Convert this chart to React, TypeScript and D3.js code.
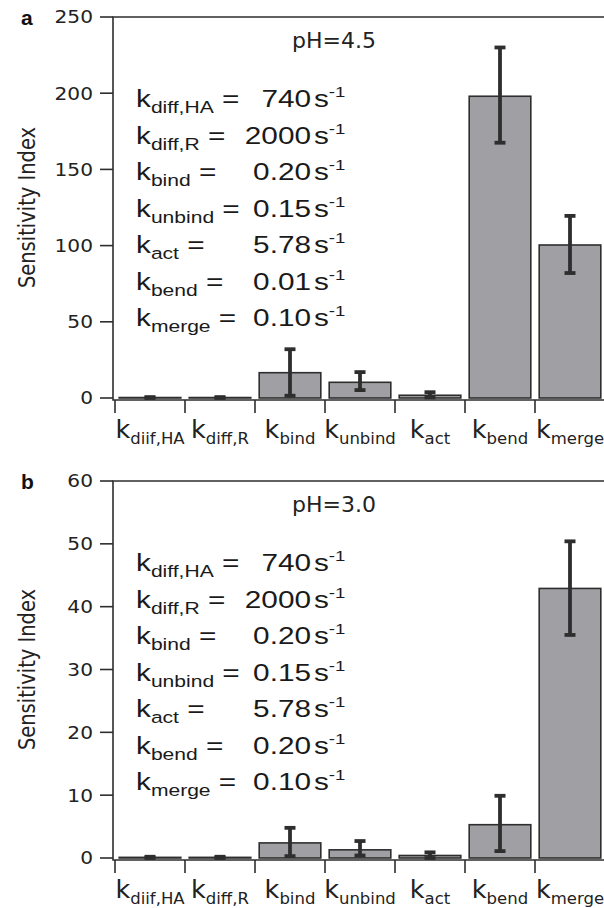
import React from 'react';
import * as d3 from 'd3';

// x categories (subscripts of k), as printed under the bars
const categories = ['diif,HA', 'diff,R', 'bind', 'unbind', 'act', 'bend', 'merge'];

// panel a, pH=4.5
const valuesA = [0.3, 0.3, 16.6, 10.3, 1.8, 198, 100.4];
const errLoA = [0, 0, 1.5, 5.2, 0.4, 167.5, 82];
const errHiA = [0.6, 0.6, 32, 17, 3.8, 230, 119.5];
const ticksA = [0, 50, 100, 150, 200, 250];

// panel b, pH=3.0
const valuesB = [0.1, 0.1, 2.4, 1.3, 0.4, 5.3, 42.9];
const errLoB = [0, 0, 0.3, 0.4, 0, 1.1, 35.5];
const errHiB = [0.2, 0.2, 4.8, 2.7, 0.9, 9.9, 50.4];
const ticksB = [0, 10, 20, 30, 40, 50, 60];

// rate constants listed inside each panel
const paramLabels = ['diff,HA', 'diff,R', 'bind', 'unbind', 'act', 'bend', 'merge'];
const paramValuesA = ['740', '2000', '0.20', '0.15', '5.78', '0.01', '0.10'];
const paramValuesB = ['740', '2000', '0.20', '0.15', '5.78', '0.20', '0.10'];

const dark = '#2e2e2e';
const barFill = '#a0a0a4';
const sans = 'DejaVu Sans, sans-serif';
const helv = 'Liberation Sans, Arial, sans-serif';

type PanelProps = {
  letter: string;
  ph: string;
  values: number[];
  lo: number[];
  hi: number[];
  yMax: number;
  ticks: number[];
  top: number;
  bottom: number;
  params: string[];
};

function Panel({ letter, ph, values, lo, hi, yMax, ticks, top, bottom, params }: PanelProps) {
  const x = d3.scaleBand<string>()
    .domain(categories)
    .range([115, 605])
    .paddingInner(0.12)
    .paddingOuter(0.06);
  const y = d3.scaleLinear().domain([0, yMax]).range([bottom, top]);
  const axisX = 113;
  const axisY = y(0) + 2;
  const half = (x.step() * x.paddingInner()) / 2;
  const sx = 1.24; // glyphs in the source are stretched sideways

  return (
    <g>
      <text x={21} y={top + 8} fontFamily={helv} fontWeight="bold" fontSize={21} fill="#111">{letter}</text>

      {/* frame: left axis and top border */}
      <path d={`M606,${top}H${axisX}V${axisY}H606`} fill="none" stroke={dark} strokeWidth={1.6} />

      {ticks.map(t => (
        <g key={t}>
          <line x1={100} x2={axisX} y1={y(t)} y2={y(t)} stroke={dark} strokeWidth={1.6} />
          <text x={0} y={0} transform={`translate(93,${y(t)}) scale(1.12,1)`} textAnchor="end" dy="0.36em"
            fontFamily={sans} fontSize={18} fill="#222">{t}</text>
        </g>
      ))}

      <text transform={`translate(27,${(top + bottom) / 2}) rotate(-90) scale(1,1.2)`} textAnchor="middle" dy="0.36em"
        fontFamily={sans} fontSize={19.5} fill="#222">Sensitivity Index</text>

      {categories.map(c => (
        <line key={'t' + c} x1={x(c)! - half} x2={x(c)! - half} y1={axisY} y2={axisY + 13}
          stroke={dark} strokeWidth={1.6} />
      ))}

      {categories.map((c, i) => (
        <rect key={'b' + c} x={x(c)!} width={x.bandwidth()} y={y(values[i])} height={y(0) - y(values[i])}
          fill={barFill} stroke={dark} strokeWidth={1.6} />
      ))}

      {categories.map((c, i) => {
        const cx = x(c)! + x.bandwidth() / 2;
        return (
          <g key={'e' + c} stroke={dark} strokeWidth={3.8}>
            <line x1={cx} x2={cx} y1={y(hi[i])} y2={y(lo[i])} />
            <line x1={cx - 5.5} x2={cx + 5.5} y1={y(hi[i])} y2={y(hi[i])} />
            <line x1={cx - 5.5} x2={cx + 5.5} y1={y(lo[i])} y2={y(lo[i])} />
          </g>
        );
      })}

      {categories.map(c => (
        <text key={'l' + c} x={x(c)! + x.bandwidth() / 2} y={axisY + 38} textAnchor="middle"
          fontFamily={sans} fill="#222">
          <tspan fontSize={25.5}>k</tspan>
          <tspan fontSize={16.5} dy={6}>{c}</tspan>
        </text>
      ))}

      <text x={334} y={top + 31} textAnchor="middle" fontFamily={sans} fontSize={22} fill="#222">{ph}</text>

      {paramLabels.map((p, i) => (
        <g key={'p' + p} transform={`translate(136,${top + 90 + i * 36.5}) scale(${sx},1)`} fill="#1a1a1a"
          fontFamily={helv}>
          <text x={0} y={0}>
            <tspan fontSize={24}>k</tspan>
            <tspan fontSize={17} dy={6}>{p}</tspan>
            <tspan fontSize={24} dy={-6}>{' ='}</tspan>
          </text>
          <text x={(311 - 136) / sx} y={0} textAnchor="end" fontSize={24}>{params[i]}</text>
          <text x={(314 - 136) / sx} y={0} fontSize={24}>
            s<tspan fontSize={15} dy={-10}>-1</tspan>
          </text>
        </g>
      ))}
    </g>
  );
}

export default function App() {
  return (
    <svg width={604} height={908} viewBox="0 0 604 908"
      style={{ position: 'absolute', left: 0, top: 0, display: 'block', background: '#fff' }}>
      <rect x={0} y={0} width={604} height={908} fill="#fff" />
      <Panel letter="a" ph="pH=4.5" values={valuesA} lo={errLoA} hi={errHiA} yMax={250} ticks={ticksA}
        top={17} bottom={398} params={paramValuesA} />
      <Panel letter="b" ph="pH=3.0" values={valuesB} lo={errLoB} hi={errHiB} yMax={60} ticks={ticksB}
        top={481} bottom={858} params={paramValuesB} />
    </svg>
  );
}
